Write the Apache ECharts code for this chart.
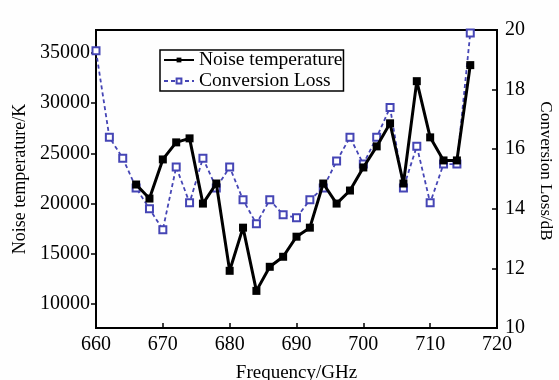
<!DOCTYPE html>
<html>
<head>
<meta charset="utf-8">
<script src="https://cdn.jsdelivr.net/npm/echarts@6/dist/echarts.min.js"></script>
<style>
  html, body { margin: 0; padding: 0; background: #fefefe; }
  #chart { width: 559px; height: 380px; }
</style>
</head>
<body>
<div id="chart"></div>
<script>
// 噪声温度 (K)
const ntFreq = [666, 668, 670, 672, 674, 676, 678, 680, 682, 684, 686, 688, 690,
    692, 694, 696, 698, 700, 702, 704, 706, 708, 710, 712, 714, 716];
const ntVals = [21900, 20500, 24400, 26100, 26500, 20000, 22000, 13300, 17600, 11300,
    13700, 14700, 16700, 17600, 22000, 20000, 21300, 23600, 25700, 28000,
    22000, 32200, 26600, 24300, 24300, 33800];
// 变频损耗 (dB)
const clFreq = [660, 662, 664, 666, 668, 670, 672, 674, 676, 678, 680, 682, 684, 686,
    688, 690, 692, 694, 696, 698, 700, 702, 704, 706, 708, 710, 712, 714, 716];
const clVals = [19.3, 16.4, 15.7, 14.7, 14.0, 13.3, 15.4, 14.2, 15.7, 14.7, 15.4, 14.3,
    13.5, 14.3, 13.8, 13.7, 14.3, 14.7, 15.6, 16.4, 15.5, 16.4, 17.4, 14.7, 16.1,
    14.2, 15.5, 15.5, 19.9];
const ntTicks = [10000, 15000, 20000, 25000, 30000, 35000];

const font = 'Liberation Serif';
const blue = '#4545b5';

let chart = echarts.init(document.getElementById('chart'));
let option = {
    backgroundColor: '#fefefe',
    animation: false,
    textStyle: { fontFamily: font, color: '#000' },
    grid: {
        left: 96, right: 62, top: 30, bottom: 52,
        outerBoundsMode: 'none',
        show: true, borderColor: '#000', borderWidth: 2
    },
    legend: {
        orient: 'vertical',
        left: 160, top: 50,
        padding: [0, 1, 0, 3],
        itemGap: 1,
        itemWidth: 30, itemHeight: 6,
        borderColor: '#000', borderWidth: 1.5,
        textStyle: { fontFamily: font, fontSize: 19.5, color: '#000', lineHeight: 20 },
        data: ['Noise temperature', 'Conversion Loss']
    },
    xAxis: {
        type: 'value',
        min: 660, max: 720, interval: 10,
        name: 'Frequency/GHz',
        nameLocation: 'middle',
        nameGap: 36,
        nameTextStyle: { fontFamily: font, fontSize: 19, color: '#000' },
        axisLine: { lineStyle: { color: '#000', width: 2 } },
        axisTick: { inside: true, length: 5, lineStyle: { color: '#000', width: 1.5 } },
        axisLabel: { fontFamily: font, fontSize: 20, color: '#000', margin: 7 },
        splitLine: { show: false }
    },
    yAxis: [
        {
            type: 'value',
            min: 7600, max: 37300,
            name: 'Noise temperature/K',
            nameLocation: 'middle',
            nameGap: 64,
            nameTextStyle: { fontFamily: font, fontSize: 18, color: '#000' },
            axisLine: { show: true, lineStyle: { color: '#000', width: 2 } },
            axisTick: { show: true, length: 5, customValues: ntTicks, lineStyle: { color: '#000', width: 1.5 } },
            axisLabel: {
                fontFamily: font, fontSize: 20, color: '#000', margin: 6,
                customValues: ntTicks,
                formatter: (v) => String(v)
            },
            splitLine: { show: false }
        },
        {
            type: 'value',
            position: 'right',
            min: 10, max: 20, interval: 2,
            name: 'Conversion Loss/dB',
            nameLocation: 'middle',
            nameRotate: -90,
            nameGap: 40,
            nameTextStyle: { fontFamily: font, fontSize: 17, color: '#000', padding: [0, 16, 0, 0] },
            axisLine: { show: true, lineStyle: { color: '#000', width: 2 } },
            axisTick: { show: true, inside: true, length: 5, lineStyle: { color: '#000', width: 1.5 } },
            axisLabel: { fontFamily: font, fontSize: 20, color: '#000', margin: 8 },
            splitLine: { show: false }
        }
    ],
    series: [
        {
            name: 'Conversion Loss',
            type: 'line',
            yAxisIndex: 1,
            data: clFreq.map((f, i) => [f, clVals[i]]),
            symbol: 'emptyRect',
            symbolSize: 7,
            color: blue,
            lineStyle: { color: blue, width: 1.8, type: [4, 3] },
            itemStyle: { color: blue, borderColor: blue, borderWidth: 1.5 },
            z: 2
        },
        {
            name: 'Noise temperature',
            type: 'line',
            yAxisIndex: 0,
            data: ntFreq.map((f, i) => [f, ntVals[i]]),
            symbol: 'rect',
            symbolSize: 8,
            color: '#000',
            lineStyle: { color: '#000', width: 3 },
            itemStyle: { color: '#000' },
            z: 3
        }
    ]
};
option && chart.setOption(option);
</script>
</body>
</html>
